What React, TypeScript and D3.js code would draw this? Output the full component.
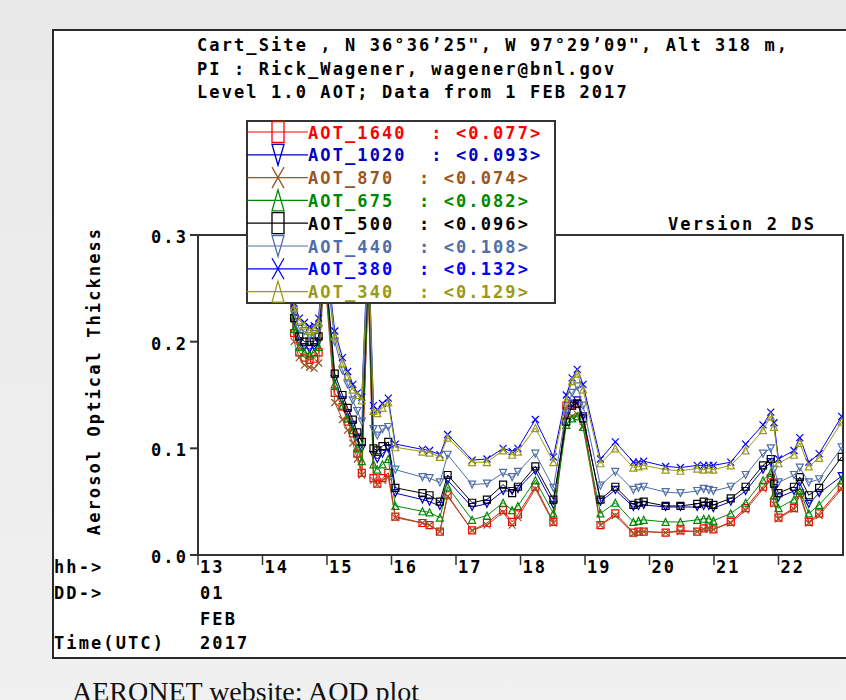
import React from 'react';
import * as d3 from 'd3';

// ---- data (hours UTC on 1 FEB 2017) ----
const hours = [14.42, 14.49, 14.57, 14.65, 14.73, 14.80, 14.87, 14.96, 15.12, 15.24, 15.32, 15.40, 15.47, 15.54, 15.64, 15.72, 15.78, 15.86, 15.95, 16.06, 16.48, 16.59, 16.75, 16.87, 17.25, 17.48, 17.73, 17.87, 17.96, 18.23, 18.51, 18.71, 18.80, 18.88, 18.97, 19.24, 19.47, 19.75, 19.83, 19.91, 20.25, 20.48, 20.74, 20.84, 20.92, 20.99, 21.26, 21.49, 21.76, 21.88, 21.93, 22.00, 22.24, 22.33, 22.47, 22.63, 22.98];

const aot1640 = [.25,.208,.19,.185,.183,.184,.19,.268,.152,.139,.125,.114,.095,.077,.255,.072,.067,.072,.077,.036,.03,.028,.022,.056,.023,.03,.042,.031,.038,.064,.031,.14,.14,.142,.128,.028,.039,.021,.022,.022,.021,.023,.022,.025,.026,.024,.031,.044,.064,.072,.049,.035,.044,.058,.031,.039,.064];
const aot1020 = [.255,.218,.2,.195,.193,.195,.2,.275,.165,.145,.133,.122,.11,.1,.265,.094,.09,.095,.1,.058,.052,.05,.046,.07,.045,.048,.06,.06,.062,.079,.047,.13,.142,.145,.13,.05,.061,.045,.046,.047,.045,.045,.045,.046,.046,.044,.05,.06,.08,.087,.063,.054,.06,.068,.048,.058,.074];
const aot870 = [.245,.2,.185,.178,.176,.175,.18,.265,.143,.127,.117,.105,.09,.075,.25,.07,.066,.07,.073,.035,.03,.028,.022,.055,.023,.028,.04,.028,.035,.062,.03,.13,.13,.132,.12,.028,.037,.02,.022,.022,.021,.022,.022,.024,.025,.024,.03,.042,.062,.07,.048,.034,.043,.056,.03,.037,.062];
const aot675 = [.25,.212,.195,.19,.188,.19,.195,.27,.16,.14,.128,.117,.1,.088,.26,.085,.08,.085,.09,.046,.041,.04,.035,.064,.033,.037,.049,.042,.046,.07,.039,.122,.128,.13,.12,.039,.049,.031,.032,.033,.031,.031,.033,.034,.034,.032,.039,.049,.07,.077,.056,.044,.052,.06,.039,.047,.07];
const aot500 = [.26,.222,.205,.2,.2,.2,.205,.28,.17,.15,.138,.127,.115,.106,.27,.1,.098,.102,.106,.063,.058,.056,.05,.075,.049,.052,.066,.058,.064,.083,.052,.125,.14,.142,.128,.052,.064,.047,.049,.05,.046,.046,.048,.05,.049,.047,.053,.064,.084,.09,.067,.058,.064,.073,.056,.063,.092];
const aot440 = [.265,.228,.212,.21,.205,.207,.212,.285,.2,.173,.16,.145,.135,.125,.28,.118,.112,.118,.12,.08,.073,.072,.068,.094,.066,.067,.077,.073,.078,.095,.063,.135,.152,.158,.14,.065,.078,.061,.063,.064,.059,.058,.06,.062,.061,.06,.064,.075,.095,.1,.08,.068,.075,.082,.068,.071,.101];
const aot380 = [.275,.236,.222,.218,.214,.215,.222,.295,.21,.185,.172,.16,.152,.148,.3,.14,.136,.142,.147,.104,.099,.098,.094,.113,.089,.09,.1,.097,.1,.127,.092,.15,.166,.174,.16,.09,.106,.087,.087,.088,.083,.082,.084,.084,.084,.084,.087,.104,.122,.134,.124,.09,.098,.11,.087,.095,.13];
const aot340 = [.27,.232,.22,.215,.21,.212,.218,.29,.205,.18,.168,.155,.15,.145,.29,.135,.133,.138,.143,.101,.097,.096,.092,.11,.087,.087,.098,.094,.097,.119,.087,.145,.163,.17,.155,.086,.1,.082,.083,.084,.08,.079,.081,.08,.081,.08,.084,.098,.117,.13,.12,.086,.094,.105,.083,.091,.125];

const seriesNames = ['AOT_1640', 'AOT_1020', 'AOT_870', 'AOT_675', 'AOT_500', 'AOT_440', 'AOT_380', 'AOT_340'];
const seriesMeans = ['0.077', '0.093', '0.074', '0.082', '0.096', '0.108', '0.132', '0.129'];
const seriesValues = [aot1640, aot1020, aot870, aot675, aot500, aot440, aot380, aot340];
const seriesColors = ['#ff0000', '#0000c0', '#995522', '#008800', '#000000', '#4f6ea8', '#0000ff', '#999918'];
const seriesShapes = ['square', 'tridown', 'x', 'triup', 'square', 'tridown', 'x', 'triup'];

const hourTicks = [13, 14, 15, 16, 17, 18, 19, 20, 21, 22];
const yTicks = [0.0, 0.1, 0.2, 0.3];
const titleLines = [
  'Cart_Site , N 36°36’25", W 97°29’09", Alt 318 m,',
  'PI : Rick_Wagener, wagener@bnl.gov',
  'Level 1.0 AOT; Data from 1 FEB 2017',
];

// ---- layout ----
const W = 846, H = 700;
const PL = 198, PR = 843, PT = 235, PB = 555;
const FONT = '"DejaVu Sans Mono", "Liberation Mono", monospace';
const FS = 17;
const LS = 2.1;
const ADV = FS * 0.602 + LS;

const x = d3.scaleLinear().domain([13, 23]).range([PL, PR]);
const y = d3.scaleLinear().domain([0, 0.3]).range([PB, PT]);

function markerPath(shape: string, cx: number, cy: number, w: number, h: number): string {
  const p = d3.path();
  const hw = w / 2, hh = h / 2;
  if (shape === 'square') {
    p.rect(cx - hw, cy - hh, w, h);
  } else if (shape === 'triup') {
    p.moveTo(cx, cy - hh); p.lineTo(cx + hw, cy + hh); p.lineTo(cx - hw, cy + hh); p.closePath();
  } else if (shape === 'tridown') {
    p.moveTo(cx, cy + hh); p.lineTo(cx + hw, cy - hh); p.lineTo(cx - hw, cy - hh); p.closePath();
  } else {
    p.moveTo(cx - hw, cy - hh); p.lineTo(cx + hw, cy + hh);
    p.moveTo(cx + hw, cy - hh); p.lineTo(cx - hw, cy + hh);
  }
  return p.toString();
}

const textStyle: React.CSSProperties = {
  fontFamily: FONT,
  fontWeight: 'bold',
  fontSize: FS,
  letterSpacing: LS,
};

export default function App() {
  const line = d3.line<[number, number]>().x(d => x(d[0])).y(d => y(d[1]));
  const series = seriesNames.map((name, i) => ({
    name,
    mean: seriesMeans[i],
    color: seriesColors[i],
    shape: seriesShapes[i],
    pts: hours.map((h, j) => [h, seriesValues[i][j]] as [number, number]),
  }));

  const legX = 247, legY = 121, legW = 308, legH = 182;
  const rowY0 = 132, rowStep = 22.8;

  return (
    <>
      <style>{`body{margin:0;}`}</style>
      <svg width={W} height={H} style={{ display: 'block' }}>
        <defs>
          <linearGradient id="bg" x1="0" y1="0" x2="0" y2="1">
            <stop offset="0" stopColor="#e9e9e9" />
            <stop offset="1" stopColor="#f0f0f0" />
          </linearGradient>
          <clipPath id="plotclip">
            <rect x={PL} y={PT} width={PR - PL} height={PB - PT} />
          </clipPath>
        </defs>
        <rect x={0} y={0} width={W} height={H} fill="url(#bg)" />
        <rect x={53} y={30} width={820} height={628} fill="#ffffff" stroke="#2a2a2a" strokeWidth={2} />

        {titleLines.map((t, i) => (
          <text key={i} x={197} y={51 + i * 23.5} style={textStyle} fill="#000">{t}</text>
        ))}

        <text x={668} y={230} style={textStyle} fill="#000">Version 2 DS</text>

        {/* plot frame */}
        <rect x={PL} y={PT} width={PR - PL} height={PB - PT} fill="none" stroke="#333" strokeWidth={2} />
        {yTicks.map(t => (
          <g key={t}>
            <line x1={PL - 8} x2={PL} y1={y(t)} y2={y(t)} stroke="#333" strokeWidth={2} />
            <text x={188} y={y(t) + 8} textAnchor="end" style={textStyle} fill="#000">{t.toFixed(1)}</text>
          </g>
        ))}
        {hourTicks.map(h => (
          <g key={h}>
            <line x1={x(h)} x2={x(h)} y1={PB} y2={PB + 10} stroke="#333" strokeWidth={1.5} />
            <text x={x(h) + 2} y={573} style={textStyle} fill="#000">{String(h)}</text>
          </g>
        ))}
        <text x={54} y={573} style={textStyle} fill="#000">hh-&gt;</text>
        <text x={54} y={599} style={textStyle} fill="#000">DD-&gt;</text>
        <text x={54} y={649} style={textStyle} fill="#000">Time(UTC)</text>
        <text x={200} y={599} style={textStyle} fill="#000">01</text>
        <text x={200} y={625} style={textStyle} fill="#000">FEB</text>
        <text x={200} y={649} style={textStyle} fill="#000">2017</text>

        <text transform="translate(100,381) rotate(-90)" textAnchor="middle" style={textStyle} fill="#000">Aerosol Optical Thickness</text>

        {/* data */}
        <g clipPath="url(#plotclip)">
          {series.map(s => (
            <g key={s.name}>
              <path d={line(s.pts) || ''} fill="none" stroke={s.color} strokeWidth={1} />
              {s.pts.map((p, j) => (
                <path key={j} d={markerPath(s.shape, x(p[0]), y(p[1]), 7, 7)} fill="none" stroke={s.color} strokeWidth={1.2} />
              ))}
            </g>
          ))}
        </g>

        {/* legend */}
        <rect x={legX} y={legY} width={legW} height={legH} fill="#ffffff" stroke="#333" strokeWidth={2} />
        {series.map((s, i) => {
          const ry = rowY0 + i * rowStep;
          return (
            <g key={s.name}>
              <line x1={legX} x2={308} y1={ry} y2={ry} stroke={s.color} strokeWidth={1.2} />
              <path d={markerPath(s.shape, 278, ry, 12, 21)} fill="none" stroke={s.color} strokeWidth={1.3} />
              <text x={308} y={ry + 6.5} style={textStyle} fill={s.color}>{s.name}</text>
              <text x={308 + (s.name.length + 2) * ADV} y={ry + 6.5} style={textStyle} fill={s.color}>{`: <${s.mean}>`}</text>
            </g>
          );
        })}

        <text x={72} y={701} fontFamily='"Liberation Serif", "Times New Roman", serif' fontSize={28} fill="#111">AERONET website: AOD plot</text>
      </svg>
    </>
  );
}
